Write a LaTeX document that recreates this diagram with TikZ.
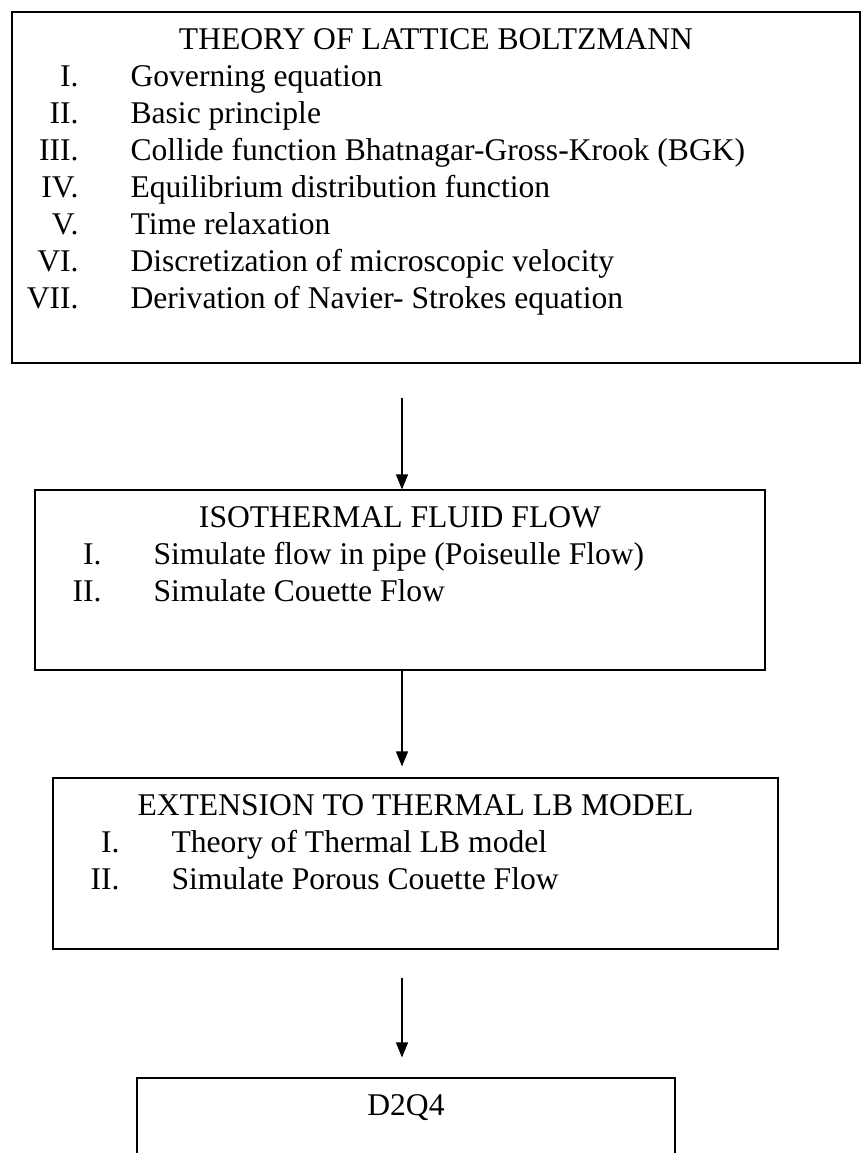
\documentclass[tikz,border=0pt]{standalone}
\usepackage{fontspec}
\setmainfont{Liberation Serif}
\usetikzlibrary{arrows.meta}

\begin{document}
\begin{tikzpicture}[x=1bp,y=-1bp,
  every node/.style={font=\fontsize{31.6bp}{37bp}\selectfont, inner sep=0pt},
  box/.style={draw, line width=1.2bp, rectangle},
  flow/.style={line width=1.2bp, -{Triangle[length=15bp,width=12bp]}}]

\useasboundingbox (0,0) rectangle (862,1153);

\newcommand{\flowbox}[5] % name, left, top, right, bottom
{
 \node[box, minimum width={#4bp-#2bp}, minimum height={#5bp-#3bp}]
   (#1) at ({(#2+#4)/2},{(#3+#5)/2}) {};
}
\newcommand{\boxtitle}[3] % name, box, text
{
 \node[anchor=base] (#1) at ([yshift=-38bp]#2.north) {#3};
}
\newcommand{\boxlist}[3] % name, box, rows
{
 \node[anchor=base west] (#1) at ([xshift=1bp,yshift=-75bp]#2.north west)
   {\begin{tabular}[t]{@{}r@{\hspace{52bp}}l@{}}#3\end{tabular}};
}

\flowbox{theory}{12}{12}{860}{363}
\flowbox{iso}{35}{490}{765}{670}
\flowbox{ext}{53}{778}{778}{949}
\flowbox{dq}{137}{1078}{675}{1200}

\boxtitle{theoryT}{theory}{THEORY OF LATTICE BOLTZMANN}
\boxlist{theoryL}{theory}{
 \makebox[66bp][r]{I.} & Governing equation \\
 II. & Basic principle \\
 III. & Collide function Bhatnagar-Gross-Krook (BGK) \\
 IV. & Equilibrium distribution function \\
 V. & Time relaxation \\
 VI. & Discretization of microscopic velocity \\
 VII. & Derivation of Navier- Strokes equation}

\boxtitle{isoT}{iso}{ISOTHERMAL FLUID FLOW}
\boxlist{isoL}{iso}{
 \makebox[66bp][r]{I.} & Simulate flow in pipe (Poiseulle Flow) \\
 II. & Simulate Couette Flow}

\boxtitle{extT}{ext}{EXTENSION TO THERMAL LB MODEL}
\boxlist{extL}{ext}{
 \makebox[66bp][r]{I.} & Theory of Thermal LB model \\
 II. & Simulate Porous Couette Flow}

\boxtitle{dqT}{dq}{D2Q4}

% arrows
\coordinate (ax) at (402,0);
\draw[flow, shorten <=34bp] (theory.south -| ax) -- (iso.north -| ax);
\draw[flow, shorten >=11bp] (iso.south -| ax) -- (ext.north -| ax);
\draw[flow, shorten <=28bp, shorten >=20bp] (ext.south -| ax) -- (dq.north -| ax);

\end{tikzpicture}
\end{document}
